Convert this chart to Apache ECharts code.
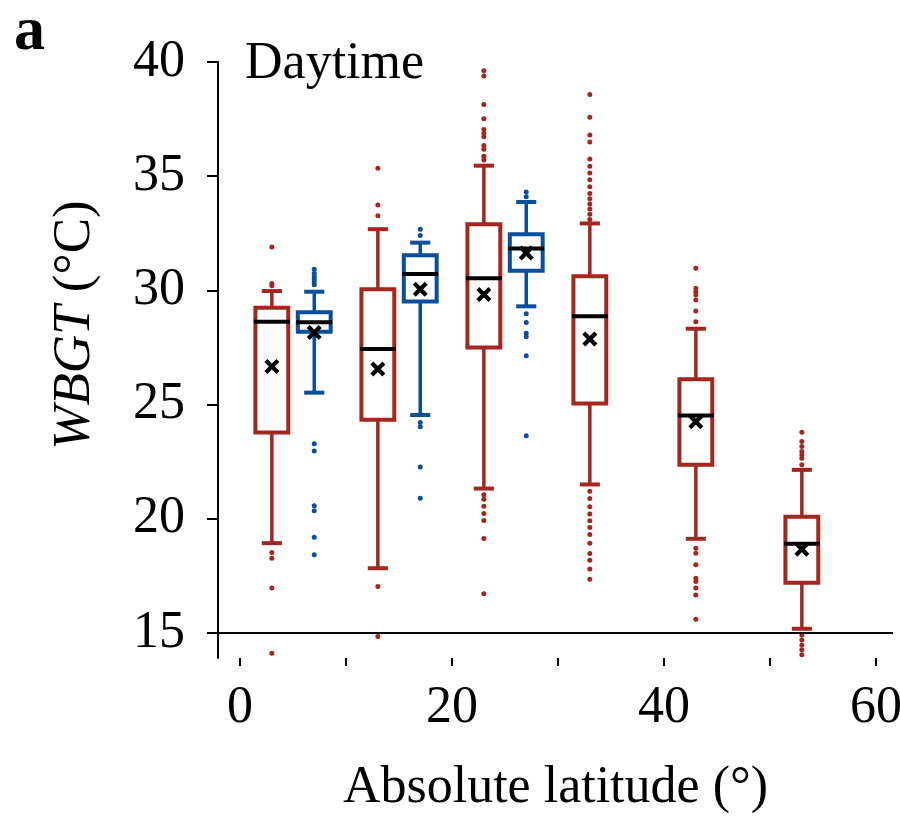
<!DOCTYPE html>
<html>
<head>
<meta charset="utf-8">
<script src="https://cdn.jsdelivr.net/npm/echarts@6/dist/echarts.min.js"></script>
<style>html,body{margin:0;padding:0;background:#fff}#c{width:900px;height:819px}</style>
</head>
<body>
<div id="c"></div>
<script>
// ---- data ----
const redX = [3, 13, 23, 33, 43, 53];
const redLowCap = [18.93, 17.83, 21.32, 21.5, 19.12, 15.18];
const redQ1 = [23.77, 24.33, 27.5, 25.04, 22.36, 17.2];
const redMedian = [28.63, 27.43, 30.53, 28.87, 24.52, 18.9];
const redQ3 = [29.24, 30.05, 32.9, 30.62, 26.11, 20.09];
const redHighCap = [29.97, 32.68, 35.46, 32.93, 28.32, 22.14];
const redMean = [26.66, 26.56, 29.82, 27.87, 24.25, 18.66];
const redOutliers = [
  [31.9, 30.3, 30.2, 18.52, 18.27, 16.96, 14.11],
  [35.35, 33.74, 33.27, 17.03, 14.84],
  [39.62, 39.39, 38.14, 37.51, 37.04, 36.88, 36.73, 36.34, 36.18, 35.87, 35.71, 21.05, 20.85, 20.54, 20.23, 19.92, 19.13, 16.71],
  [38.58, 37.58, 36.8, 36.5, 35.75, 35.44, 35.14, 34.84, 34.54, 34.24, 34.01, 33.78, 33.56, 33.33, 33.1, 21.2, 20.89, 20.52, 20.21, 19.91, 19.61, 19.31, 18.93, 18.48, 18.18, 17.8, 17.35],
  [30.97, 30.09, 29.94, 29.8, 29.58, 29.1, 28.63, 18.71, 18.49, 17.98, 17.39, 17.25, 16.96, 16.66, 15.6],
  [23.79, 23.38, 23.16, 22.94, 22.79, 22.65, 22.36, 14.91, 14.69, 14.47, 14.26, 14.04]
];
const blueX = [7, 17, 27];
const blueLowCap = [25.52, 24.54, 29.3];
const blueQ1 = [28.19, 29.51, 30.86];
const blueMedian = [28.6, 30.72, 31.83];
const blueQ3 = [29.04, 31.54, 32.46];
const blueHighCap = [29.94, 32.09, 33.87];
const blueMean = [28.15, 30.05, 31.64];
const blueOutliers = [
  [30.92, 30.75, 30.6, 30.49, 30.38, 30.24, 23.28, 22.97, 20.57, 20.35, 19.19, 18.42],
  [32.68, 32.4, 24.21, 24.03, 22.26, 20.9],
  [34.31, 34.1, 28.98, 28.59, 28.12, 27.97, 27.14, 23.63]
];
const yTicks = [15, 20, 25, 30, 35, 40];
const xTicks = [0, 10, 20, 30, 40, 50, 60];
const xLabels = [0, 20, 40, 60];

// ---- build ----
const RED = '#a3271f', BLUE = '#0b4f9c';
const FONT = 'Liberation Serif';
function boxData(xs, lo, q1, md, q3, hi) {
  return xs.map((x, i) => [x, lo[i], q1[i], md[i], q3[i], hi[i]]);
}
function outData(xs, outs) {
  const d = [];
  xs.forEach((x, i) => outs[i].forEach(v => d.push([x, v])));
  return d;
}
function meanData(xs, m) { return xs.map((x, i) => [x, m[i]]); }
function renderBox(color) {
  return function (params, api) {
    const x = api.value(0);
    const pLo = api.coord([x, api.value(1)]);
    const pQ1 = api.coord([x, api.value(2)]);
    const pMd = api.coord([x, api.value(3)]);
    const pQ3 = api.coord([x, api.value(4)]);
    const pHi = api.coord([x, api.value(5)]);
    const bw = api.size([3.1, 0])[0];
    const cw = api.size([1.9, 0])[0];
    const cx = pMd[0];
    return {
      type: 'group',
      children: [
        { type: 'line', shape: { x1: cx, y1: pLo[1], x2: cx, y2: pHi[1] }, style: { stroke: color, lineWidth: 3.5 } },
        { type: 'line', shape: { x1: cx - cw / 2, y1: pLo[1], x2: cx + cw / 2, y2: pLo[1] }, style: { stroke: color, lineWidth: 4 } },
        { type: 'line', shape: { x1: cx - cw / 2, y1: pHi[1], x2: cx + cw / 2, y2: pHi[1] }, style: { stroke: color, lineWidth: 4 } },
        { type: 'rect', shape: { x: cx - bw / 2, y: pQ3[1], width: bw, height: pQ1[1] - pQ3[1] }, style: { fill: '#fff', stroke: color, lineWidth: 4 } },
        { type: 'line', shape: { x1: cx - bw / 2 - 1.5, y1: pMd[1], x2: cx + bw / 2 + 1.5, y2: pMd[1] }, style: { stroke: '#000', lineWidth: 4 } }
      ]
    };
  };
}
const XPATH = 'path://M2,0 L5,3 L8,0 L10,2 L7,5 L10,8 L8,10 L5,7 L2,10 L0,8 L3,5 L0,2 Z';

const chart = echarts.init(document.getElementById('c'), null, { renderer: 'canvas' });
chart.setOption({
  animation: false,
  backgroundColor: '#fff',
  grid: { left: 218, right: 7, top: 62, bottom: 161, containLabel: false, outerBoundsMode: 'none' },
  xAxis: {
    type: 'value', min: -2.08, max: 61.6,
    axisLine: { show: false },
    axisTick: { show: true, customValues: xTicks, length: 8, lineStyle: { color: '#000', width: 2 } },
    axisLabel: { customValues: xLabels, margin: 24, fontSize: 52, fontFamily: FONT, color: '#000' },
    splitLine: { show: false },
    name: 'Absolute latitude (°)', nameLocation: 'middle', nameGap: 104,
    nameTextStyle: { fontSize: 52, fontFamily: FONT, color: '#000' }
  },
  yAxis: {
    type: 'value', min: 13.9, max: 40,
    axisLine: { show: true, onZero: false, lineStyle: { color: '#000', width: 2 } },
    axisTick: { show: true, customValues: yTicks, length: 11, lineStyle: { color: '#000', width: 2 } },
    axisLabel: { customValues: yTicks, margin: 33, fontSize: 52, fontFamily: FONT, color: '#000' },
    splitLine: { show: false }
  },
  graphic: [
    { type: 'text', left: 14, top: 2, style: { text: 'a', font: 'bold 62px "Liberation Serif"', fill: '#000' } },
    { type: 'text', left: 245, top: 38, style: { text: 'Daytime', font: '52px "Liberation Serif"', fill: '#000' } },
    { type: 'text', x: 75, y: 325, rotation: Math.PI / 2,
      style: { text: '{i|WBGT} (°C)', align: 'center', verticalAlign: 'middle', font: '53px "Liberation Serif"', fill: '#000',
        rich: { i: { fontStyle: 'italic', fontSize: 53, fontFamily: FONT, fill: '#000' } } } }
  ],
  series: [
    { type: 'line', data: [], markLine: { silent: true, symbol: 'none', label: { show: false },
        lineStyle: { color: '#000', width: 2, type: 'solid' }, data: [{ yAxis: 15 }] } },
    { type: 'custom', renderItem: renderBox(RED), data: boxData(redX, redLowCap, redQ1, redMedian, redQ3, redHighCap), clip: false, z: 2 },
    { type: 'custom', renderItem: renderBox(BLUE), data: boxData(blueX, blueLowCap, blueQ1, blueMedian, blueQ3, blueHighCap), clip: false, z: 2 },
    { type: 'scatter', data: outData(redX, redOutliers), symbolSize: 5, itemStyle: { color: RED, opacity: 1 }, z: 3 },
    { type: 'scatter', data: outData(blueX, blueOutliers), symbolSize: 5, itemStyle: { color: BLUE, opacity: 1 }, z: 3 },
    { type: 'scatter', data: meanData(redX, redMean).concat(meanData(blueX, blueMean)), symbol: XPATH, symbolSize: 15, itemStyle: { color: '#000', opacity: 1 }, z: 4 }
  ]
});
</script>
</body>
</html>
